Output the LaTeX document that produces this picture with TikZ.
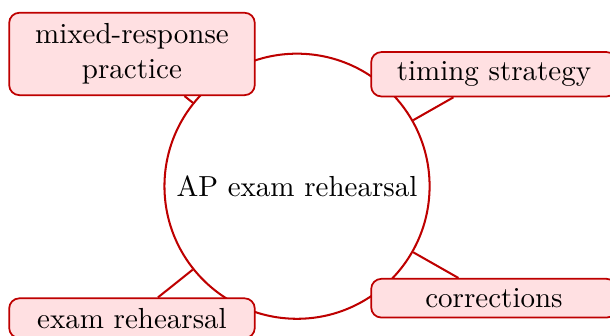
\documentclass[tikz,border=0pt]{standalone}
\usepackage{tikz}
\usetikzlibrary{positioning}

\definecolor{deepred}{RGB}{190,0,0}
\definecolor{softpink}{RGB}{255,224,226}

\begin{document}
\begin{tikzpicture}[x=1pt, y=1pt,
    hub/.style={circle, draw=deepred, line width=0.7pt, minimum size=91.4pt, inner sep=0pt},
    topic/.style={draw=deepred, fill=softpink, line width=0.6pt, rounded corners=3.5pt,
                  text width=78pt, align=center},
    link/.style={draw=deepred, line width=0.7pt}]

    \useasboundingbox (-102.4,64.2) rectangle (107.9,-51.3);

    \node[hub] (hub) at (0,0) {AP exam rehearsal};

    \node[topic, minimum height=28.4pt] (mixed) at (-56.9,45.6) {mixed-response practice};
    \node[topic] (timing) at (67.9,38.6) {timing strategy};
    \node[topic] (corr) at (67.9,-38.6) {corrections};
    \node[topic] (exam) at (-56.9,-45.5) {exam rehearsal};

    \draw[link] (hub) -- (mixed);
    \draw[link] (hub) -- (timing);
    \draw[link] (hub) -- (corr);
    \draw[link] (hub) -- (exam);

\end{tikzpicture}
\end{document}
